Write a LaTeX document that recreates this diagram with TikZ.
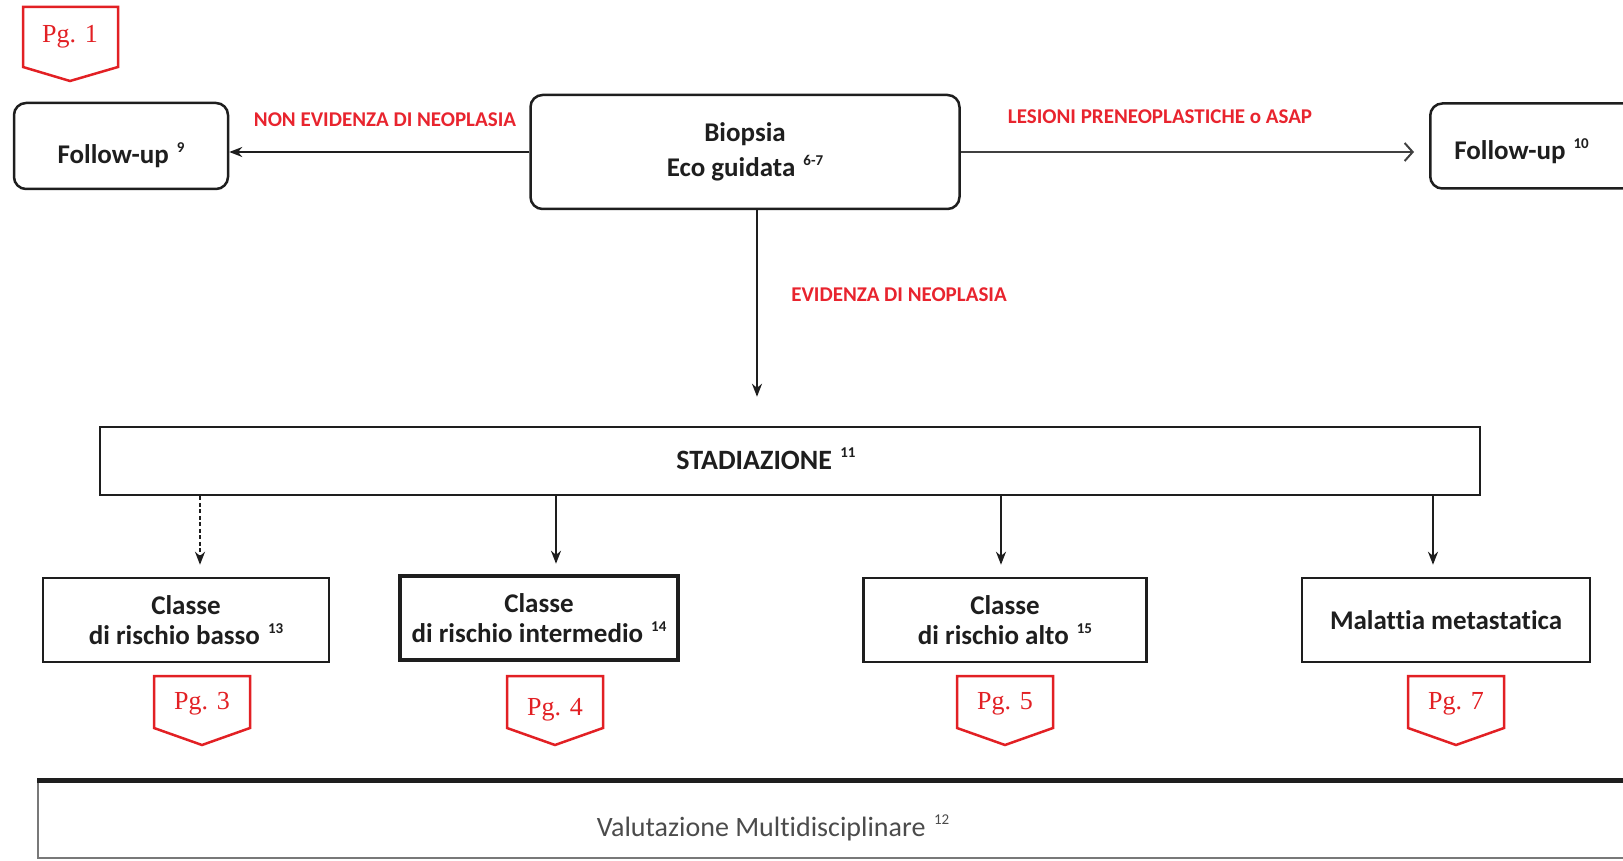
\documentclass[tikz,border=0pt]{standalone}
\usepackage{fontspec}
\setmainfont[Ligatures=NoCommon]{Carlito}
\newfontfamily\tagfont{Liberation Serif}
\usetikzlibrary{arrows.meta,calc}
\definecolor{lblred}{RGB}{232,36,46}
\definecolor{tagred}{RGB}{226,32,36}
\definecolor{ink}{RGB}{30,30,30}
\newcommand\sups[1]{\hspace{0.3em}\raisebox{0.42em}{\fontsize{15}{15}\selectfont #1}}
\tikzset{
 rbox/.style={draw=ink, line width=2.5pt, rounded corners=12pt, align=center, font=\fontsize{27}{35}\selectfont\bfseries, text=ink, inner sep=0pt},
 sbox/.style={draw=ink, line width=2.5pt, align=center, font=\fontsize{27}{30}\selectfont\bfseries, text=ink, inner sep=0pt},
 lbl/.style={text=lblred, font=\fontsize{21}{23}\selectfont\bfseries, inner sep=0pt},
 tagtxt/.style={text=tagred, font=\tagfont\fontsize{26}{28}\selectfont, inner sep=0pt},
 tagline/.style={draw=tagred, line width=2.5pt, line join=miter},
 arr/.style={draw=ink, line width=2.2pt, -{Stealth[length=13pt,width=10pt]}},
 openarr/.style={draw=ink!85, line width=2pt, -{Straight Barb[length=8pt,width=18pt,line width=2pt]}},
}
\begin{document}
\begin{tikzpicture}[x=1pt,y=-1pt]
\useasboundingbox (0,0) rectangle (1623,861);
% main boxes
\node[rbox, minimum width=214pt, minimum height=86pt] (fu1) at (121,146) {\raisebox{-18pt}[0pt][0pt]{Follow-up\sups{9}}};
\node[rbox, minimum width=429pt, minimum height=114pt] (bio) at (745,152) {Biopsia\\Eco guidata\sups{6-7}};
\node[rbox, minimum height=85pt, text width=165pt, inner xsep=24pt, align=left, anchor=west] (fu2) at (1429,146) {\raisebox{-14pt}[0pt][0pt]{Follow-up\sups{10}}};
\node[sbox, minimum width=1380pt, minimum height=68pt] (stad) at (790,461) {};
\node[font=\fontsize{28}{30}\selectfont\bfseries, text=ink, inner sep=0pt] (stadt) at (766,459) {STADIAZIONE\sups{11}};
\node[sbox, minimum width=286pt, minimum height=84pt] (basso) at (186,620) {Classe\\di rischio basso\sups{13}};
\node[sbox, line width=4.5pt, minimum width=278pt, minimum height=84pt] (inter) at (539,618) {Classe\\di rischio intermedio\sups{14}};
\node[sbox, minimum width=283pt, minimum height=84pt] (alto) at (1005,620) {Classe\\di rischio alto\sups{15}};
\node[sbox, minimum width=288pt, minimum height=84pt] (meta) at (1446,620) {Malattia metastatica};
\node[draw=ink!60, line width=2pt, minimum width=1602pt, minimum height=77pt, inner sep=0pt] (val) at (839,819.5) {};
\draw[ink, line width=5pt] (val.north west) -- (val.north east);
\node[font=\fontsize{28}{30}\selectfont, text=ink!80, inner sep=0pt] (valt) at (773,828) {Valutazione Multidisciplinare\sups{12}};
% red labels
\node[lbl] (l1) at (385,120) {NON EVIDENZA DI NEOPLASIA};
\node[lbl] (l2) at (1160,117) {LESIONI PRENEOPLASTICHE o ASAP};
\node[lbl] (l3) at (899,295) {EVIDENZA DI NEOPLASIA};
% connectors
\draw[arr] (bio.west) -- (bio.west -| fu1.east);
\draw[openarr, shorten >=15pt] (bio.east) -- (bio.east -| fu2.west);
\coordinate (a0) at (757,0);
\draw[arr, shorten >=29pt] (bio.south -| a0) -- (stad.north -| a0);
\coordinate (a1) at (200,0);
\coordinate (a2) at (556,0);
\coordinate (a3) at (1001,0);
\coordinate (a4) at (1433,0);
\draw[arr, dash pattern=on 4pt off 2.5pt, shorten >=12pt] (stad.south -| a1) -- (basso.north -| a1);
\draw[arr, shorten >=10pt] (stad.south -| a2) -- (inter.north -| a2);
\draw[arr, shorten >=12pt] (stad.south -| a3) -- (alto.north -| a3);
\draw[arr, shorten >=12pt] (stad.south -| a4) -- (meta.north -| a4);
% page tags
\node[tagtxt] (t1) at (70,37) {Pg. 1};
\draw[tagline] ($(t1)+(-47,-30)$) -- ($(t1)+(48,-30)$) -- ($(t1)+(48,30)$) -- ($(t1)+(0,44)$) -- ($(t1)+(-47,30)$) -- cycle;
\node[tagtxt] (t3) at (202,704) {Pg. 3};
\draw[tagline] ($(t3)+(-48,-28)$) -- ($(t3)+(48,-28)$) -- ($(t3)+(48,24)$) -- ($(t3)+(0,41)$) -- ($(t3)+(-48,24)$) -- cycle;
\node[tagtxt] (t4) at (555,710) {Pg. 4};
\draw[tagline] ($(t4)+(-48,-34)$) -- ($(t4)+(48,-34)$) -- ($(t4)+(48,18)$) -- ($(t4)+(0,35)$) -- ($(t4)+(-48,18)$) -- cycle;
\node[tagtxt] (t5) at (1005,704) {Pg. 5};
\draw[tagline] ($(t5)+(-48,-28)$) -- ($(t5)+(48,-28)$) -- ($(t5)+(48,24)$) -- ($(t5)+(0,41)$) -- ($(t5)+(-48,24)$) -- cycle;
\node[tagtxt] (t7) at (1456,704) {Pg. 7};
\draw[tagline] ($(t7)+(-48,-28)$) -- ($(t7)+(48,-28)$) -- ($(t7)+(48,24)$) -- ($(t7)+(0,41)$) -- ($(t7)+(-48,24)$) -- cycle;
\end{tikzpicture}
\end{document}
